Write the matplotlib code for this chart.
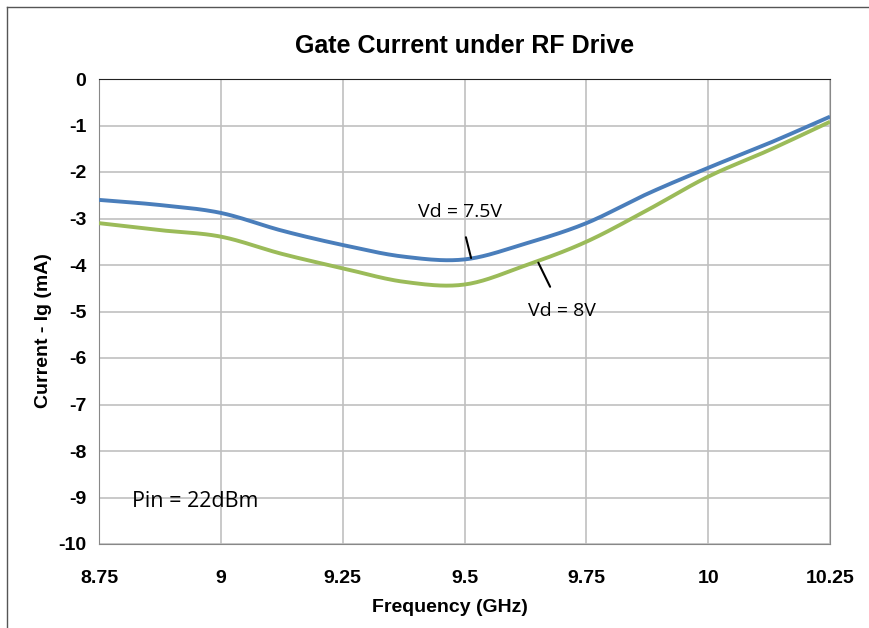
import numpy as np
import matplotlib
matplotlib.use('Agg')
import matplotlib.pyplot as plt
from matplotlib.lines import Line2D

plt.rcParams['axes.unicode_minus'] = False

# Frequency points (GHz) and gate current (mA)
freq = [8.75, 8.875, 9.0, 9.125, 9.25, 9.375, 9.5, 9.625, 9.75, 9.875, 10.0, 10.125, 10.25]
ig_vd75 = [-2.60, -2.71, -2.88, -3.26, -3.57, -3.82, -3.88, -3.54, -3.10, -2.47, -1.91, -1.38, -0.81]
ig_vd8 = [-3.10, -3.25, -3.39, -3.76, -4.07, -4.36, -4.42, -4.01, -3.50, -2.82, -2.10, -1.53, -0.92]

x_ticks = [8.75, 9.0, 9.25, 9.5, 9.75, 10.0, 10.25]
x_tick_labels = ['8.75', '9', '9.25', '9.5', '9.75', '10', '10.25']
y_ticks = list(range(-10, 1))

BLUE = '#4a7ebb'
GREEN = '#9bbb59'


def smooth(xs, ys, n=20):
    # Catmull-Rom style smoothing, like Excel's smoothed line
    xs = np.asarray(xs, float)
    ys = np.asarray(ys, float)
    px = np.concatenate([[2 * xs[0] - xs[1]], xs, [2 * xs[-1] - xs[-2]]])
    py = np.concatenate([[2 * ys[0] - ys[1]], ys, [2 * ys[-1] - ys[-2]]])
    outx, outy = [], []
    t = np.linspace(0, 1, n, endpoint=False)
    for i in range(1, len(px) - 2):
        for arr, out in ((px, outx), (py, outy)):
            p0, p1, p2, p3 = arr[i - 1], arr[i], arr[i + 1], arr[i + 2]
            out.extend(0.5 * ((2 * p1) + (-p0 + p2) * t
                              + (2 * p0 - 5 * p1 + 4 * p2 - p3) * t ** 2
                              + (-p0 + 3 * p1 - 3 * p2 + p3) * t ** 3))
    outx.append(xs[-1])
    outy.append(ys[-1])
    return np.array(outx), np.array(outy)


fig = plt.figure(figsize=(8.7, 6.28), dpi=100)
ax = fig.add_axes([99 / 870, 1 - 544 / 628, 731 / 870, 465 / 628])

sx, sy = smooth(freq, ig_vd75)
ax.plot(sx, sy, color=BLUE, lw=2.8, solid_capstyle='butt', zorder=3)
sx, sy = smooth(freq, ig_vd8)
ax.plot(sx, sy, color=GREEN, lw=2.8, solid_capstyle='butt', zorder=3)

ax.set_xlim(8.75, 10.25)
ax.set_ylim(-10, 0)
ax.set_xticks(x_ticks)
ax.set_xticklabels(x_tick_labels)
ax.set_yticks(y_ticks)
ax.grid(True, color='#c0c0c0', lw=1.2)
ax.set_axisbelow(True)
ax.tick_params(length=0, labelsize=14, pad=9)
ax.tick_params(axis='x', pad=19)
for lab in ax.get_xticklabels() + ax.get_yticklabels():
    lab.set_fontfamily('Liberation Sans')
    lab.set_fontweight('bold')
for side in ['left', 'right', 'bottom']:
    ax.spines[side].set_color('#888888')
ax.spines['top'].set_color('#222222')

ax.set_title('Gate Current under RF Drive', fontsize=18, fontweight='bold',
             family='Liberation Sans', pad=19)
ax.set_xlabel('Frequency (GHz)', fontsize=14, fontweight='bold',
              family='Liberation Sans')
ax.xaxis.set_label_coords(0.480, -0.119)
ax.set_ylabel('Current - Ig (mA)', fontsize=14, fontweight='bold',
              family='Liberation Sans')
ax.yaxis.set_label_coords(-0.064, 0.46)

# curve labels with leader lines
ax.annotate('Vd = 7.5V', xy=(9.5135, -3.85), xytext=(9.49, -2.86),
            fontsize=14, family='Open Sans', ha='center', va='center',
            arrowprops=dict(arrowstyle='-', color='black', lw=1.5, shrinkA=10, shrinkB=0))
ax.annotate('Vd = 8V', xy=(9.6515, -3.95), xytext=(9.7, -4.99),
            fontsize=14, family='Open Sans', ha='center', va='center',
            arrowprops=dict(arrowstyle='-', color='black', lw=1.5, shrinkA=10, shrinkB=0))
ax.text(8.818, -9.08, 'Pin = 22dBm', fontsize=15.5, family='Open Sans',
        ha='left', va='center')

# chart area border (top and left edges visible)
fig.add_artist(Line2D([7 / 870, 1], [1 - 7 / 628, 1 - 7 / 628], color='#555555', lw=1))
fig.add_artist(Line2D([7 / 870, 7 / 870], [0, 1 - 7 / 628], color='#555555', lw=1))

fig.savefig('out.png', dpi=100)
